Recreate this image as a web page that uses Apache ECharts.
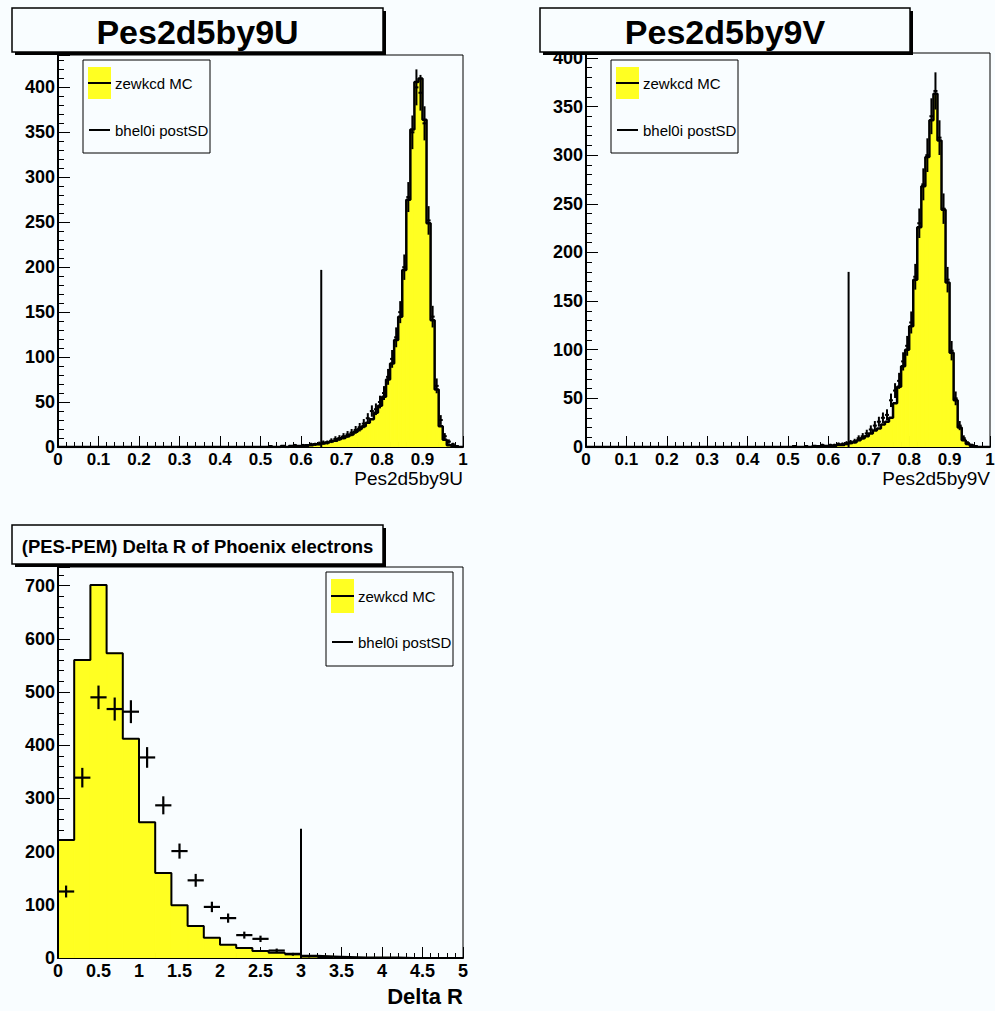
<!DOCTYPE html>
<html>
<head>
<meta charset="utf-8">
<script src="https://cdn.jsdelivr.net/npm/echarts@6/dist/echarts.min.js"></script>
<style>
html, body { margin: 0; padding: 0; background: #f9fdff; }
#main { width: 995px; height: 1011px; }
</style>
</head>
<body>
<div id="main"></div>
<script>
// bin widths of the three histograms
const uBinWidth = 0.01;
const vBinWidth = 0.01;
const rBinWidth = 0.2;

// Pes2d5by9U, 100 bins from 0 to 1
const mcU = [
  0,0,0,0,0,0,0,0,0,0, 0,0,0,0,0,0,0,0,0,0, 0,0,0,0,0,0,0,0,0,0,
  0,0,0,0,0,0,0,0,0,0, 0,0,0,0,0,0,0,0,0,0,
  0,0,0,0,0,1,0,1,1,1,
  1,2,2,3,3,4,5,6,7,9,
  10,12,14,17,20,23,27,31,38,46,
  56,75,93,119,145,197,275,353,406,410,
  364,249,141,64,23,8,2,1,0,0
];
const dataU = [
  0,0,0,0,0,0,0,0,0,0, 0,0,0,0,0,0,0,0,0,0, 0,0,0,0,0,0,0,0,0,0,
  0,0,0,0,0,0,0,0,0,0, 0,0,0,0,0,0,0,0,0,0,
  0,0,1,0,0,1,0,1,2,1,
  2,1,3,3,4,5,5,7,9,10,
  12,14,16,19,22,26,32,40,42,50,
  60,78,98,122,150,200,278,350,400,394,
  360,252,145,68,30,12,6,3,1,0
];

// Pes2d5by9V, 100 bins from 0 to 1
const mcV = [
  0,0,0,0,0,0,0,0,0,0, 0,0,0,0,0,0,0,0,0,0, 0,0,0,0,0,0,0,0,0,0,
  0,0,0,0,0,0,0,0,0,0, 0,0,0,0,0,0,0,0,0,0,
  0,0,0,0,0,0,1,0,1,1,
  1,1,2,2,3,4,5,7,9,11,
  14,17,19,23,26,30,45,62,83,100,
  124,172,226,268,298,336,363,315,244,169,
  97,48,20,7,3,1,0,0,0,0
];
const dataV = [
  0,0,0,0,0,0,0,0,0,0, 0,0,0,0,0,0,0,0,0,0, 0,0,0,0,0,0,0,0,0,0,
  0,0,0,0,0,0,0,0,0,0, 0,0,0,0,0,0,0,0,0,0,
  0,1,0,0,1,0,1,1,2,1,
  2,2,3,3,4,5,6,9,11,14,
  18,22,26,30,33,48,58,68,88,104,
  128,175,230,270,300,340,366,318,245,172,
  99,50,22,9,4,2,1,0,0,0
];

// Delta R, 25 bins from 0 to 5
const mcR = [222, 560, 701, 573, 412, 255, 160, 99, 60, 38, 25, 19, 13, 10, 8, 4, 3, 2, 1, 1, 1, 0, 0, 0, 0];
const dataR = [125, 339, 490, 468, 463, 377, 287, 201, 146, 96, 75, 43, 36, 14, 7, 3, 2, 1, 0, 0, 0, 0, 0, 0, 0];

// cut lines: [x, height]
const cutU = [0.65, 197];
const cutV = [0.65, 180];
const cutR = [3.0, 243];

const titles = ['Pes2d5by9U', 'Pes2d5by9V', '(PES-PEM) Delta R of Phoenix electrons'];
const axisNames = ['Pes2d5by9U', 'Pes2d5by9V', 'Delta R'];
const legendLabels = ['zewkcd MC', 'bhel0i postSD'];

const YELLOW = '#ffff22';
const BG = '#f9fdff';
const FONT = '"Liberation Sans", Arial, Helvetica, sans-serif';

function fillSeries(idx, values, bw) {
  return {
    type: 'custom', xAxisIndex: idx, yAxisIndex: idx, silent: true, clip: true,
    data: values.map((v, i) => [i * bw, v]),
    renderItem: function (params, api) {
      const v = api.value(1);
      if (!(v > 0)) return null;
      const x0 = api.value(0);
      const a = api.coord([x0, v]);
      const b = api.coord([x0 + bw, 0]);
      return {
        type: 'rect',
        shape: { x: a[0], y: a[1], width: b[0] - a[0], height: b[1] - a[1] },
        style: { fill: YELLOW, stroke: YELLOW, lineWidth: 1 }
      };
    }
  };
}

function outlineSeries(idx, values, bw, lw) {
  const pts = [[0, 0]];
  values.forEach((v, i) => pts.push([i * bw, v]));
  pts.push([values.length * bw, values[values.length - 1]]);
  pts.push([values.length * bw, 0]);
  return {
    type: 'line', xAxisIndex: idx, yAxisIndex: idx, step: 'end', data: pts,
    symbol: 'none', silent: true, lineStyle: { color: '#000', width: lw }
  };
}

function dataSeries(idx, values, bw, lw) {
  return {
    type: 'custom', xAxisIndex: idx, yAxisIndex: idx, silent: true, clip: true,
    data: values.map((v, i) => [i * bw, v]),
    renderItem: function (params, api) {
      const v = api.value(1);
      if (!(v > 0)) return null;
      const x0 = api.value(0);
      const err = Math.sqrt(v);
      const l = api.coord([x0, v]);
      const r = api.coord([x0 + bw, v]);
      const c = x0 + bw / 2;
      const lo = api.coord([c, Math.max(v - err, 0)]);
      const hi = api.coord([c, v + err]);
      const st = { stroke: '#000', lineWidth: lw };
      return {
        type: 'group',
        children: [
          { type: 'line', shape: { x1: l[0], y1: l[1], x2: r[0], y2: r[1] }, style: st },
          { type: 'line', shape: { x1: lo[0], y1: lo[1], x2: hi[0], y2: hi[1] }, style: st }
        ]
      };
    }
  };
}

function cutSeries(idx, cut) {
  return {
    type: 'line', xAxisIndex: idx, yAxisIndex: idx, data: [[cut[0], 0], [cut[0], cut[1]]],
    symbol: 'none', silent: true, lineStyle: { color: '#000', width: 2 }
  };
}

function xAxisFor(idx, max, interval, labelSize, nameSize, nameBold, namePad) {
  return {
    type: 'value', gridIndex: idx, min: 0, max: max, interval: interval,
    name: axisNames[idx], nameLocation: 'end', nameGap: 0, nameMoveOverlap: false,
    nameTextStyle: {
      color: '#000', fontFamily: FONT, fontSize: nameSize, fontWeight: nameBold ? 'bold' : 'normal',
      align: 'right', verticalAlign: 'top', padding: [namePad, 0, 0, 0]
    },
    axisLine: { show: true, onZero: false, lineStyle: { color: '#000', width: 2 } },
    axisTick: { show: true, inside: true, length: 11, lineStyle: { color: '#000', width: 1 } },
    minorTick: { show: true, splitNumber: 5, length: 5, lineStyle: { color: '#000', width: 1 } },
    axisLabel: { color: '#000', fontFamily: FONT, fontWeight: 'bold', fontSize: labelSize, margin: 4, hideOverlap: false },
    splitLine: { show: false }, minorSplitLine: { show: false }
  };
}

function yAxisFor(idx, max, interval, labelSize) {
  return {
    type: 'value', gridIndex: idx, min: 0, max: max, interval: interval,
    axisLine: { show: true, onZero: false, lineStyle: { color: '#000', width: 2 } },
    axisTick: { show: true, inside: true, length: 12, lineStyle: { color: '#000', width: 1 } },
    minorTick: { show: true, splitNumber: 5, length: 6, lineStyle: { color: '#000', width: 1 } },
    axisLabel: { color: '#000', fontFamily: FONT, fontWeight: 'bold', fontSize: labelSize, margin: 3, showMaxLabel: false, hideOverlap: false },
    splitLine: { show: false }, minorSplitLine: { show: false }
  };
}

function titleBox(x, y, w, h, text, size) {
  return [
    { type: 'rect', z: 100, shape: { x: x + 3, y: y + 3, width: w, height: h }, style: { fill: '#000' } },
    { type: 'rect', z: 101, shape: { x: x, y: y, width: w, height: h }, style: { fill: BG, stroke: '#000', lineWidth: 1.5 } },
    { type: 'text', z: 102, x: x + w / 2, y: y + h / 2 + 2,
      style: { text: text, fill: '#000', font: 'bold ' + size + 'px ' + FONT, textAlign: 'center', textVerticalAlign: 'middle' } }
  ];
}

function legendBox(x, y, w, h, yh, gap) {
  const txt = { fill: '#000', font: '15px ' + FONT, textAlign: 'left', textVerticalAlign: 'middle' };
  const mid = y + 7 + yh / 2;
  return [
    { type: 'rect', z: 100, shape: { x: x, y: y, width: w, height: h }, style: { fill: BG, stroke: '#000', lineWidth: 1 } },
    { type: 'rect', z: 101, shape: { x: x + 5, y: y + 7, width: 23, height: yh }, style: { fill: YELLOW } },
    { type: 'line', z: 102, shape: { x1: x + 5, y1: mid, x2: x + 28, y2: mid }, style: { stroke: '#000', lineWidth: 2 } },
    { type: 'text', z: 102, x: x + 32, y: mid, style: Object.assign({ text: legendLabels[0] }, txt) },
    { type: 'line', z: 102, shape: { x1: x + 6, y1: mid + gap, x2: x + 27, y2: mid + gap }, style: { stroke: '#000', lineWidth: 2 } },
    { type: 'text', z: 102, x: x + 32, y: mid + gap, style: Object.assign({ text: legendLabels[1] }, txt) }
  ];
}

const gridStyle = { show: true, borderColor: '#000', borderWidth: 1, backgroundColor: 'transparent', outerBoundsMode: 'none', containLabel: false };

const option = {
  backgroundColor: BG,
  animation: false,
  grid: [
    Object.assign({ left: 58, top: 55, width: 405, height: 392 }, gridStyle),
    Object.assign({ left: 586, top: 53, width: 404, height: 394 }, gridStyle),
    Object.assign({ left: 58, top: 567, width: 405, height: 391 }, gridStyle)
  ],
  xAxis: [
    xAxisFor(0, 1, 0.1, 17, 19, false, 22),
    xAxisFor(1, 1, 0.1, 17, 19, false, 22),
    xAxisFor(2, 5, 0.5, 18, 22, true, 27)
  ],
  yAxis: [
    yAxisFor(0, 436, 50, 18),
    yAxisFor(1, 405, 50, 18),
    yAxisFor(2, 735, 100, 18)
  ],
  series: [
    fillSeries(0, mcU, uBinWidth), outlineSeries(0, mcU, uBinWidth, 2.5), dataSeries(0, dataU, uBinWidth, 2), cutSeries(0, cutU),
    fillSeries(1, mcV, vBinWidth), outlineSeries(1, mcV, vBinWidth, 2.5), dataSeries(1, dataV, vBinWidth, 2), cutSeries(1, cutV),
    fillSeries(2, mcR, rBinWidth), outlineSeries(2, mcR, rBinWidth, 2), dataSeries(2, dataR, rBinWidth, 2.2), cutSeries(2, cutR)
  ],
  graphic: [].concat(
    titleBox(12, 8, 371, 44, titles[0], 34),
    titleBox(540, 8, 370, 44, titles[1], 34),
    titleBox(12, 525, 371, 39, titles[2], 18.5),
    legendBox(83, 60, 127, 93, 32, 47),
    legendBox(611, 60, 127, 93, 32, 47),
    legendBox(326, 572, 127, 94, 34, 46)
  )
};

const chart = echarts.init(document.getElementById('main'), null, { renderer: 'svg' });
chart.setOption(option);
</script>
</body>
</html>
